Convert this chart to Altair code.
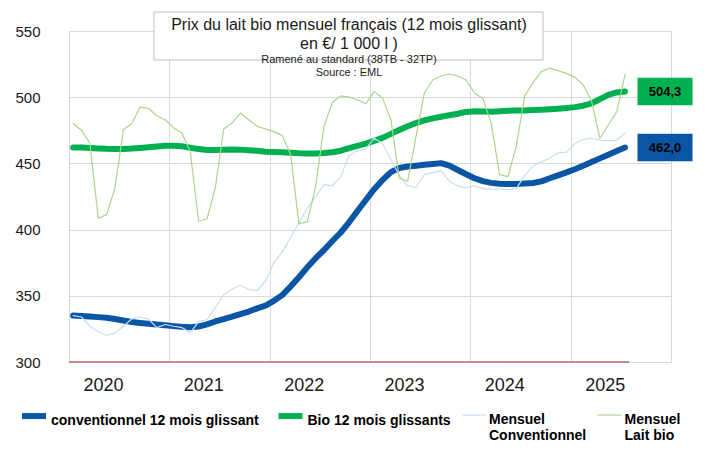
import json
import altair as alt
import pandas as pd

# ---------------- data ----------------
series_names = [
    "conventionnel 12 mois glissant",
    "Bio 12 mois glissants",
    "Mensuel Conventionnel",
    "Mensuel Lait bio",
]
series_colors = ["#0b56a4", "#00b050", "#c6ddf6", "#a9d68c"]
series_widths = [6, 6, 1.2, 1.2]

year_labels = ["2020", "2021", "2022", "2023", "2024", "2025"]
y_ticks = [300, 350, 400, 450, 500, 550]

conv_12m = [
    335.1, 334.8, 334.4, 333.9, 333.4, 332.5, 331.3, 330.2, 329.5, 328.9,
    328.3, 327.7, 327.1, 326.6, 326.3, 326.8, 328.4, 330.6, 332.4, 334.2,
    336.2, 338.1, 340.5, 342.6, 346.2, 350.5, 357.0, 364.0, 371.5, 378.4,
    384.6, 391.4, 397.8, 405.5, 414.0, 422.4, 430.5, 437.5, 443.4, 446.5,
    447.6, 448.3, 448.9, 449.6, 450.2, 448.3, 445.0, 441.8, 438.8, 436.6,
    435.3, 434.7, 434.5, 434.5, 434.8, 435.2, 436.4, 438.8, 441.0, 443.2,
    445.6, 448.3, 451.0, 453.8, 456.6, 459.4, 462.0,
]
bio_12m = [
    462.1, 462.0, 461.6, 461.3, 461.0, 460.9, 460.9, 461.2, 461.7, 462.2,
    462.8, 463.3, 463.4, 462.9, 461.8, 460.8, 460.2, 460.2, 460.4, 460.5,
    460.4, 459.9, 459.5, 458.8, 458.6, 458.5, 458.0, 457.6, 457.4, 457.4,
    457.8, 458.4, 459.6, 461.5, 463.2, 465.0, 467.0, 469.3, 472.3, 475.2,
    478.0, 480.5, 482.5, 484.0, 485.2, 486.4, 487.5, 488.9, 489.3, 489.2,
    489.1, 489.4, 489.7, 489.9, 490.0, 490.3, 490.6, 490.9, 491.3, 491.8,
    492.5, 493.6, 495.4, 498.5, 501.8, 503.6, 504.3,
]
conv_monthly = [
    335.0, 334.0, 327.0, 323.0, 320.0, 322.0, 327.0, 332.5, 334.0, 332.5,
    326.0, 328.3, 327.0, 326.0, 322.0, 330.5, 332.0, 341.0, 351.0, 355.0,
    358.0, 354.7, 354.0, 361.0, 374.8, 383.0, 394.0, 405.0, 416.0, 425.0,
    434.0, 433.0, 440.0, 456.0, 459.5, 461.0, 469.0, 465.0, 453.0, 441.0,
    433.0, 432.0, 441.5, 443.0, 444.5, 436.5, 433.0, 431.4, 433.0, 431.0,
    430.5, 430.5, 430.2, 431.0, 441.0, 448.0, 451.0, 454.0, 458.0, 458.5,
    465.0, 468.0, 469.0, 467.5, 467.0, 467.5, 473.0,
]
bio_monthly = [
    480.0, 475.0, 465.0, 408.6, 411.3, 431.4, 475.5, 480.0, 492.5, 491.5,
    486.0, 483.0, 477.0, 473.0, 459.0, 406.5, 408.0, 431.5, 476.0, 480.5,
    488.0, 483.0, 478.0, 476.0, 474.0, 471.0, 457.0, 404.5, 405.8, 432.7,
    478.0, 496.0, 501.0, 500.0, 498.0, 495.0, 504.4, 499.3, 483.0, 439.0,
    436.5, 470.0, 503.0, 513.0, 516.0, 517.5, 516.0, 513.0, 503.0, 499.0,
    480.0, 441.5, 440.0, 463.0, 501.0, 511.0, 519.5, 522.0, 520.0, 518.0,
    515.0, 509.4, 497.0, 469.0, 479.0, 489.0, 517.0,
]

title_line1 = "Prix du lait bio mensuel français (12 mois glissant)"
title_line2 = "en €/ 1 000 l )"
subtitle_line1 = "Ramené au standard (38TB - 32TP)"
subtitle_line2 = "Source : EML"

# ---------------- tables ----------------
all_series = [conv_12m, bio_12m, conv_monthly, bio_monthly]
rows = []
for name, vals in zip(series_names, all_series):
    for i, v in enumerate(vals):
        rows.append({"serie": name, "mois": i, "prix": v})
df = pd.DataFrame(rows)

n = len(conv_12m)
last_rows = pd.DataFrame({
    "serie": series_names[:2],
    "mois": [n - 1, n - 1],
    "prix": [conv_12m[-1], bio_12m[-1]],
    "fond": series_colors[:2],
})
axis_line = pd.DataFrame({"x0": [-0.5], "x1": [n - 0.5], "y": [y_ticks[0]]})

FONT = "Liberation Sans"
grid_values = [-0.5 + 12 * k for k in range(len(year_labels) + 1)]
label_expr = f"{json.dumps(year_labels)}[round((datum.value + 0.5) / 12)] || ''"

x_enc = alt.X(
    "mois:Q",
    scale=alt.Scale(domain=[-0.5, 71.5], nice=False, zero=False),
    axis=alt.Axis(
        values=grid_values, grid=True, gridColor="#d9d9d9", gridWidth=1,
        domain=False, ticks=False, tickSize=0, labelExpr=label_expr,
        labelOffset=34, labelPadding=14, labelFontSize=18, labelFlush=False,
        labelOverlap=False, labelColor="#1a1a1a", labelFont=FONT, title=None,
    ),
)
y_enc = alt.Y(
    "prix:Q",
    scale=alt.Scale(domain=[300, 550], nice=False, zero=False),
    axis=alt.Axis(
        values=y_ticks, grid=True, gridColor="#d9d9d9", gridWidth=1,
        domain=False, ticks=False, tickSize=0, labelPadding=29,
        labelFontSize=15, labelColor="#1a1a1a", labelFont=FONT, title=None,
    ),
)

legend_label_expr = (
    "indexof(datum.label, 'Mensuel ') == 0 ? "
    "split(replace(datum.label, 'Mensuel ', 'Mensuel|'), '|') : [datum.label, '']"
)
legend_kw = dict(
    orient="none", legendX=-50, legendY=368, direction="horizontal",
    title=None, labelFontSize=14, labelFontWeight="bold", labelColor="black",
    labelFont=FONT, symbolType="M-1,0.17L1,0.17", symbolSize=576, columnPadding=7.5,
    labelOffset=2, labelBaseline="top", labelLimit=400, padding=0,
    labelExpr=legend_label_expr,
)

lines = alt.Chart(df).mark_line(strokeCap="round", strokeJoin="round").encode(
    x=x_enc,
    y=y_enc,
    color=alt.Color("serie:N", scale=alt.Scale(domain=series_names, range=series_colors),
                    legend=alt.Legend(**legend_kw)),
    strokeWidth=alt.StrokeWidth("serie:N",
                                scale=alt.Scale(type="ordinal", domain=series_names, range=series_widths),
                                legend=alt.Legend(**legend_kw)),
    order=alt.Order("mois:Q"),
)

red_axis = alt.Chart(axis_line).mark_rule(color="#b86a60", strokeWidth=1.5).encode(
    x="x0:Q", x2="x1:Q", y="y:Q"
)

box_shape = "M-1,-0.5L1,-0.5L1,0.5L-1,0.5Z"
boxes = alt.Chart(last_rows).mark_point(
    shape=box_shape, size=3025, filled=True, opacity=1, strokeWidth=0, xOffset=40
).encode(
    x="mois:Q", y="prix:Q", fill=alt.Fill("fond:N", scale=None)
)
box_text = alt.Chart(last_rows).transform_calculate(
    lab="replace(format(datum.prix, '.1f'), '.', ',')"
).mark_text(dx=40, fontSize=13, fontWeight="bold", color="black", font=FONT).encode(
    x="mois:Q", y="prix:Q", text="lab:N"
)

title_df = pd.DataFrame({"t": [0]})
title_box = alt.Chart(title_df).mark_rect(fill="white", stroke="#bfbfbf", strokeWidth=1).encode(
    x=alt.value(85), x2=alt.value(474), y=alt.value(-19), y2=alt.value(29)
)

def title_text(txt, y, size):
    return alt.Chart(pd.DataFrame({"t": [txt]})).mark_text(
        fontSize=size, font=FONT, color="#1a1a1a"
    ).encode(text="t:N", x=alt.value(280), y=alt.value(y))

chart = alt.layer(
    red_axis, lines, boxes, box_text, title_box,
    title_text(title_line1, -6, 16),
    title_text(title_line2, 13, 16),
    title_text(subtitle_line1, 29, 11),
    title_text(subtitle_line2, 42, 11),
).properties(
    width=602, height=331,
    padding={"left": 61, "top": 23, "right": 31, "bottom": 81},
    autosize=alt.AutoSizeParams(type="none"),
).configure_view(strokeWidth=0).configure(font=FONT)

chart.save("out.html", embed_options={"renderer": "svg", "actions": False})
